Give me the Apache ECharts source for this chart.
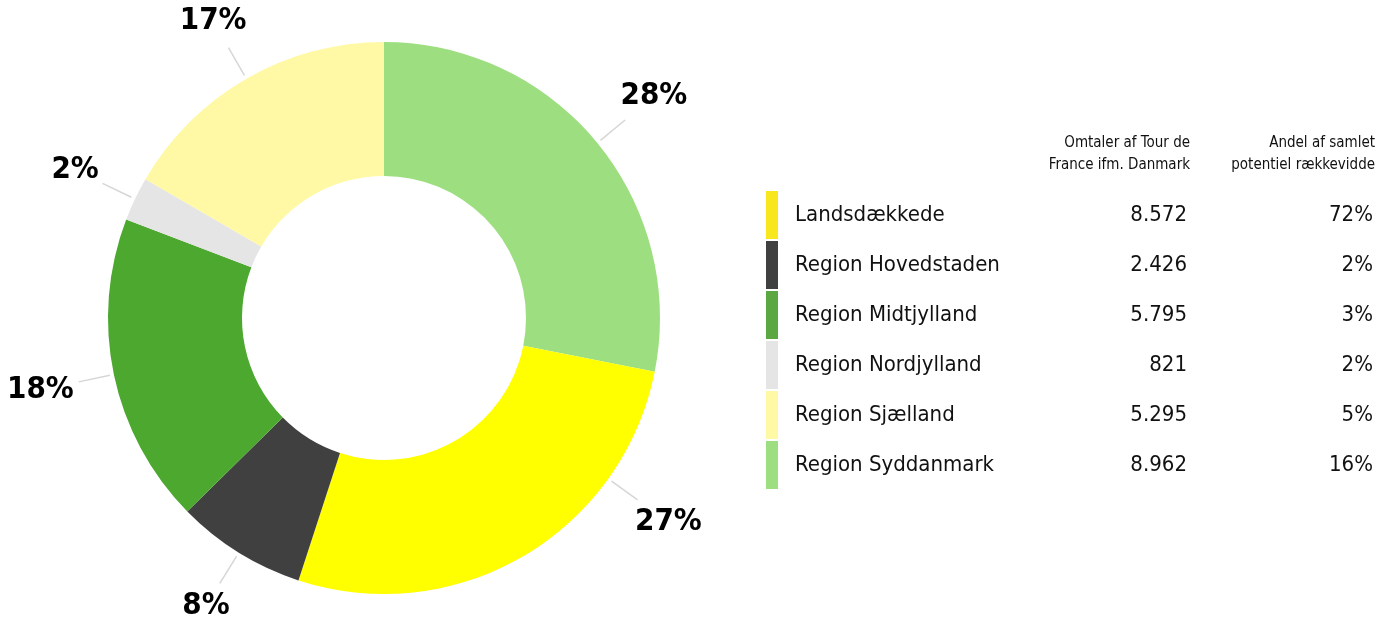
<!DOCTYPE html>
<html>
<head>
<meta charset="utf-8">
<script src="https://cdn.jsdelivr.net/npm/echarts@6/dist/echarts.min.js"></script>
<style>
  html, body { margin: 0; padding: 0; background: #fff; }
  #chart { width: 1382px; height: 617px; }
</style>
</head>
<body>
<div id="chart"></div>
<script>
// legend / table order
const regions = ['Landsdækkede', 'Region Hovedstaden', 'Region Midtjylland', 'Region Nordjylland', 'Region Sjælland', 'Region Syddanmark'];
const mentions = [8572, 2426, 5795, 821, 5295, 8962];
const reach = [72, 2, 3, 2, 5, 16];
const colors = ['#ffff00', '#404040', '#4ca82f', '#e5e5e5', '#fff9a6', '#9ddf80'];
const legendColors = ['#f8e71c', '#404040', '#5ba843', '#e5e5e5', '#fff9a6', '#9ddf80'];
// order of the slices clockwise from 12 o'clock
const pieOrder = [5, 0, 1, 2, 3, 4];

const textFont = '"DejaVu Sans Condensed", "DejaVu Sans", sans-serif';
const CX = 384, CY = 318, R_IN = 142, R_OUT = 276, LINE_LEN = 36;
// the bottom-right label sits a bit higher than the slice middle
const labelTurn = { 'Landsdækkede': -24 };

function fmtNum(v) {
  return String(v).replace(/\B(?=(\d{3})+(?!\d))/g, '.');
}

const pieData = pieOrder.map(i => ({
  name: regions[i],
  value: mentions[i],
  itemStyle: { color: colors[i] }
}));

const chart = echarts.init(document.getElementById('chart'));

chart.setOption({
  animation: false,
  legend: {
    orient: 'vertical',
    left: 766,
    top: 191,
    padding: 0,
    itemWidth: 12,
    itemHeight: 48,
    itemGap: 2,
    icon: 'rect',
    selectedMode: false,
    data: regions.map((n, i) => ({ name: n, itemStyle: { color: legendColors[i] } })),
    formatter: function (name) {
      const i = regions.indexOf(name);
      return '{s|}{n|' + name + '}{v|' + fmtNum(mentions[i]) + '}{p|' + reach[i] + '%}';
    },
    textStyle: {
      fontFamily: textFont,
      fontSize: 22,
      color: '#111',
      rich: {
        s: { width: 12 },
        n: { width: 300, fontFamily: textFont, fontSize: 22, color: '#111' },
        v: { width: 92, align: 'right', fontFamily: textFont, fontSize: 22, color: '#111' },
        p: { width: 186, align: 'right', fontFamily: textFont, fontSize: 22, color: '#111' }
      }
    }
  },
  graphic: [
    {
      type: 'text',
      x: 1190,
      y: 132,
      style: {
        text: 'Omtaler af Tour de\nFrance ifm. Danmark',
        align: 'right',
        fontFamily: textFont,
        fontSize: 15,
        lineHeight: 22,
        fill: '#111'
      }
    },
    {
      type: 'text',
      x: 1375,
      y: 132,
      style: {
        text: 'Andel af samlet\npotentiel rækkevidde',
        align: 'right',
        fontFamily: textFont,
        fontSize: 15,
        lineHeight: 22,
        fill: '#111'
      }
    }
  ],
  series: [
    {
      type: 'pie',
      center: [CX, CY],
      radius: [R_IN, R_OUT],
      startAngle: 90,
      clockwise: true,
      avoidLabelOverlap: false,
      percentPrecision: 0,
      data: pieData,
      label: {
        show: true,
        position: 'outside',
        formatter: '{d}%',
        fontFamily: textFont,
        fontWeight: 'bold',
        fontSize: 31,
        color: '#000'
      },
      labelLine: {
        show: true,
        length: LINE_LEN,
        length2: 0,
        smooth: false,
        lineStyle: { color: '#d6d6d6', width: 1.5 }
      },
      labelLayout: function (params) {
        const pts = params.labelLinePoints;
        if (!pts) return {};
        const name = pieData[params.dataIndex].name;
        let ang = Math.atan2(pts[0][1] - CY, pts[0][0] - CX);
        ang += (labelTurn[name] || 0) * Math.PI / 180;
        const dx = Math.cos(ang), dy = Math.sin(ang);
        const p0 = [CX + (R_OUT + 4) * dx, CY + (R_OUT + 4) * dy];
        const p1 = [CX + (R_OUT + LINE_LEN) * dx, CY + (R_OUT + LINE_LEN) * dy];
        const w = params.labelRect.width, h = params.labelRect.height * 0.75;
        const d = 4 + Math.abs(dx) * w / 2 + Math.abs(dy) * h / 2;
        return {
          x: p1[0] + dx * d,
          y: p1[1] + dy * d,
          align: 'center',
          verticalAlign: 'middle',
          labelLinePoints: [p0, p1, p1.slice()]
        };
      },
      emphasis: { disabled: true }
    }
  ]
});
</script>
</body>
</html>
